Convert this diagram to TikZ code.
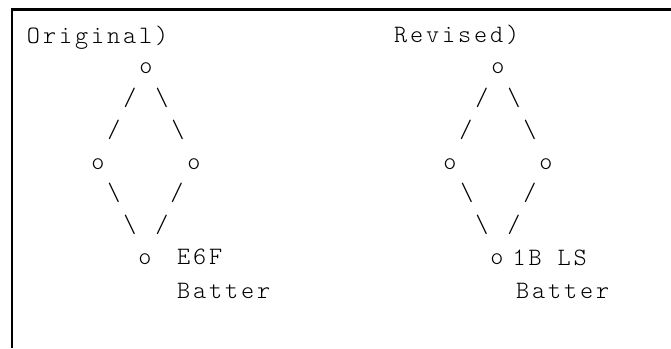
\documentclass[tikz,border=0pt]{standalone}
\usepackage{fontspec}
\usepackage{tikz}
\usetikzlibrary{positioning}
\newfontfamily\asciifont{lmmonolt10-regular.otf}[LetterSpace=11.6]
\tikzset{
    glyph/.style={
        inner sep=0pt,
        outer sep=0pt,
        font=\asciifont\fontsize{25}{25}\selectfont,
    },
    vtx/.style={
        glyph,
        anchor=center,
    },
    lnk/.style={
        glyph,
        anchor=center,
    },
    lbl/.style={
        glyph,
        anchor=base west,
    },
    frame/.style={
        draw=black,
        line width=2.5pt,
    },
  }

\begin{document}
\begin{tikzpicture}[x=1pt,y=-1pt]
              \useasboundingbox (0,0) rectangle (671,348);
              \draw[frame] (671,9.5) -- (12,9.5) -- (12,348);

              \node [lbl] (orig) at (27,43) {Original)};
              \node [lbl] (rev) at (394,42.5) {Revised)};

              \node [vtx] (ta) at (146,68) {o};
              \node [vtx] (la) at (98,164) {o};
              \node [vtx] (ra) at (194,164) {o};
              \node [vtx] (ba) at (145,259) {o};
              \node [lnk] (ta1) at (130,98) {/};
              \node [lnk] (ta2) at (114,130) {/};
              \node [lnk] (tb1) at (162,98) {\textbackslash};
              \node [lnk] (tb2) at (178,130) {\textbackslash};
              \node [lnk] (ua1) at (114,193) {\textbackslash};
              \node [lnk] (ua2) at (130,225) {\textbackslash};
              \node [lnk] (ub1) at (177,193) {/};
              \node [lnk] (ub2) at (162,225) {/};
              \node [lbl] (pa) at (177,264) {E6F};
              \node [lbl] (pab) at (177,298) {Batter};

              \node [vtx] (tr) at (498,68) {o};
              \node [vtx] (lr) at (450,164) {o};
              \node [vtx] (rr) at (546,164) {o};
              \node [vtx] (br) at (497,259) {o};
              \node [lnk] (tr1) at (482,98) {/};
              \node [lnk] (tr2) at (466,130) {/};
              \node [lnk] (ts1) at (514,98) {\textbackslash};
              \node [lnk] (ts2) at (530,130) {\textbackslash};
              \node [lnk] (ur1) at (467,193) {\textbackslash};
              \node [lnk] (ur2) at (482,225) {\textbackslash};
              \node [lnk] (us1) at (530,193) {/};
              \node [lnk] (us2) at (514,225) {/};
              \node [lbl] (pr) at (512.5,265) {1B LS};
              \node [lbl] (prb) at (516,298) {Batter};

            \end{tikzpicture}
\end{document}
